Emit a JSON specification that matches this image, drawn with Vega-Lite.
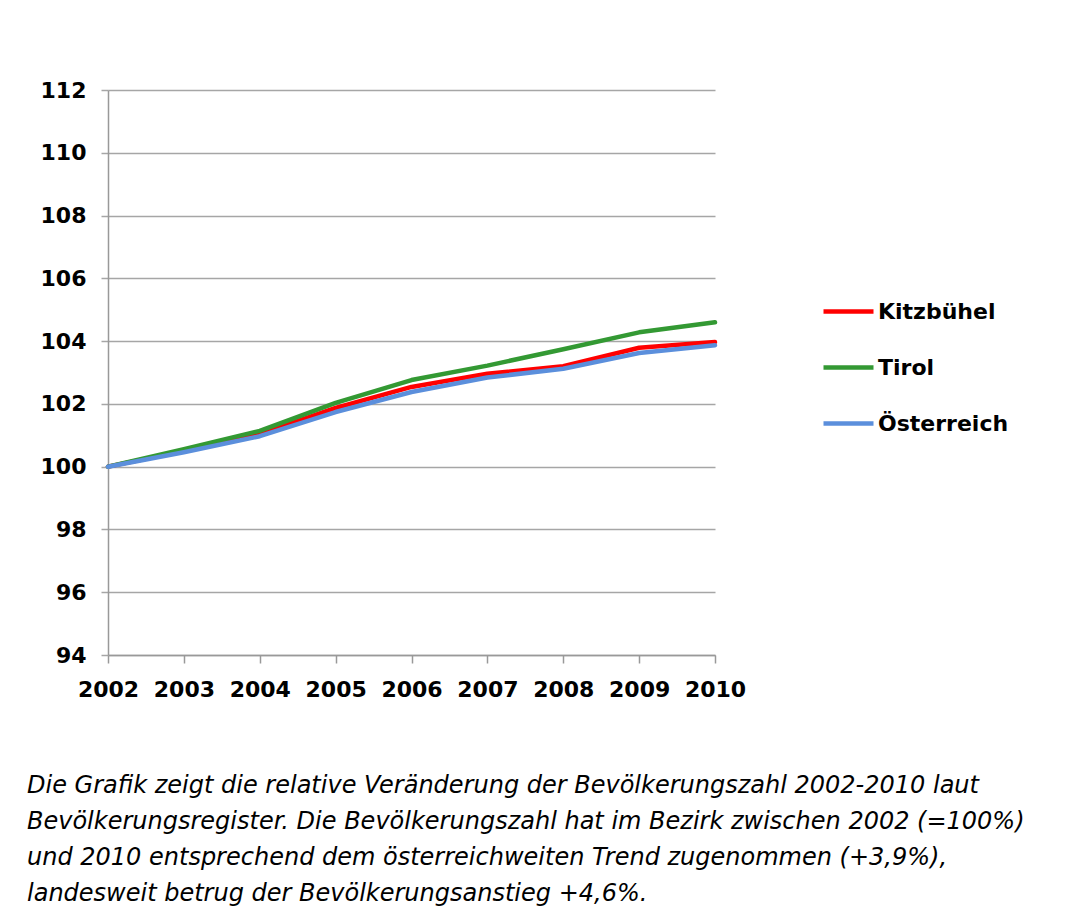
{
  "$schema": "https://vega.github.io/schema/vega-lite/v6.json",
  "autosize": "none",
  "width": 607,
  "height": 565,
  "padding": {"left": 108, "top": 90, "right": 361, "bottom": 269},
  "background": "white",
  "title": {
    "text": [
      "Die Grafik zeigt die relative Veränderung der Bevölkerungszahl 2002-2010 laut",
      "Bevölkerungsregister. Die Bevölkerungszahl hat im Bezirk zwischen 2002 (=100%)",
      "und 2010 entsprechend dem österreichweiten Trend zugenommen (+3,9%),",
      "landesweit betrug der Bevölkerungsanstieg +4,6%."
    ],
    "orient": "bottom",
    "anchor": "start",
    "frame": "group",
    "dx": -81,
    "offset": 74,
    "font": "DejaVu Sans",
    "fontStyle": "italic",
    "fontWeight": "normal",
    "fontSize": 24,
    "lineHeight": 36,
    "color": "black"
  },
  "data": {
    "values": [
      {"year": 2002, "region": "Kitzbühel", "value": 100},
      {"year": 2003, "region": "Kitzbühel", "value": 100.5},
      {"year": 2004, "region": "Kitzbühel", "value": 101.04},
      {"year": 2005, "region": "Kitzbühel", "value": 101.87},
      {"year": 2006, "region": "Kitzbühel", "value": 102.54},
      {"year": 2007, "region": "Kitzbühel", "value": 102.96},
      {"year": 2008, "region": "Kitzbühel", "value": 103.2},
      {"year": 2009, "region": "Kitzbühel", "value": 103.79},
      {"year": 2010, "region": "Kitzbühel", "value": 103.97},
      {"year": 2002, "region": "Tirol", "value": 100},
      {"year": 2003, "region": "Tirol", "value": 100.56},
      {"year": 2004, "region": "Tirol", "value": 101.14},
      {"year": 2005, "region": "Tirol", "value": 102.03},
      {"year": 2006, "region": "Tirol", "value": 102.76},
      {"year": 2007, "region": "Tirol", "value": 103.22},
      {"year": 2008, "region": "Tirol", "value": 103.74},
      {"year": 2009, "region": "Tirol", "value": 104.28},
      {"year": 2010, "region": "Tirol", "value": 104.6},
      {"year": 2002, "region": "Österreich", "value": 100},
      {"year": 2003, "region": "Österreich", "value": 100.46},
      {"year": 2004, "region": "Österreich", "value": 100.97},
      {"year": 2005, "region": "Österreich", "value": 101.74},
      {"year": 2006, "region": "Österreich", "value": 102.38},
      {"year": 2007, "region": "Österreich", "value": 102.84},
      {"year": 2008, "region": "Österreich", "value": 103.12},
      {"year": 2009, "region": "Österreich", "value": 103.62},
      {"year": 2010, "region": "Österreich", "value": 103.87}
    ]
  },
  "mark": {"type": "line", "strokeWidth": 4.5, "strokeCap": "round", "strokeJoin": "round"},
  "encoding": {
    "x": {
      "field": "year",
      "type": "quantitative",
      "scale": {"domain": [2002, 2010], "nice": false, "zero": false},
      "axis": {
        "title": null,
        "values": [2002, 2003, 2004, 2005, 2006, 2007, 2008, 2009, 2010],
        "format": "d",
        "grid": false,
        "domainColor": "#999999",
        "domainWidth": 1.5,
        "tickColor": "#999999",
        "tickWidth": 1.5,
        "tickSize": 8,
        "labelFont": "DejaVu Sans",
        "labelFontWeight": "bold",
        "labelFontSize": 22,
        "labelColor": "black",
        "labelPadding": 16,
        "labelFlush": false,
        "labelOverlap": false
      }
    },
    "y": {
      "field": "value",
      "type": "quantitative",
      "scale": {"domain": [94, 112], "nice": false, "zero": false},
      "axis": {
        "title": null,
        "values": [94, 96, 98, 100, 102, 104, 106, 108, 110, 112],
        "grid": true,
        "gridColor": "#a6a6a6",
        "gridWidth": 1.5,
        "domainColor": "#999999",
        "domainWidth": 1.5,
        "tickColor": "#a6a6a6",
        "tickWidth": 1.5,
        "tickSize": 7,
        "labelFont": "DejaVu Sans",
        "labelFontWeight": "bold",
        "labelFontSize": 22,
        "labelColor": "black",
        "labelPadding": 15,
        "labelFlush": false,
        "labelOverlap": false
      }
    },
    "color": {
      "field": "region",
      "type": "nominal",
      "scale": {
        "domain": ["Kitzbühel", "Tirol", "Österreich"],
        "range": ["#ff0000", "#339933", "#5b8fdc"]
      },
      "legend": {
        "title": null,
        "orient": "none",
        "legendX": 713,
        "legendY": 194,
        "symbolType": "stroke",
        "symbolSize": 2500,
        "symbolStrokeWidth": 4.5,
        "labelFont": "DejaVu Sans",
        "labelFontWeight": "bold",
        "labelFontSize": 22,
        "labelColor": "black",
        "labelOffset": 2,
        "rowPadding": 17
      }
    }
  },
  "config": {
    "view": {"stroke": null}
  }
}
